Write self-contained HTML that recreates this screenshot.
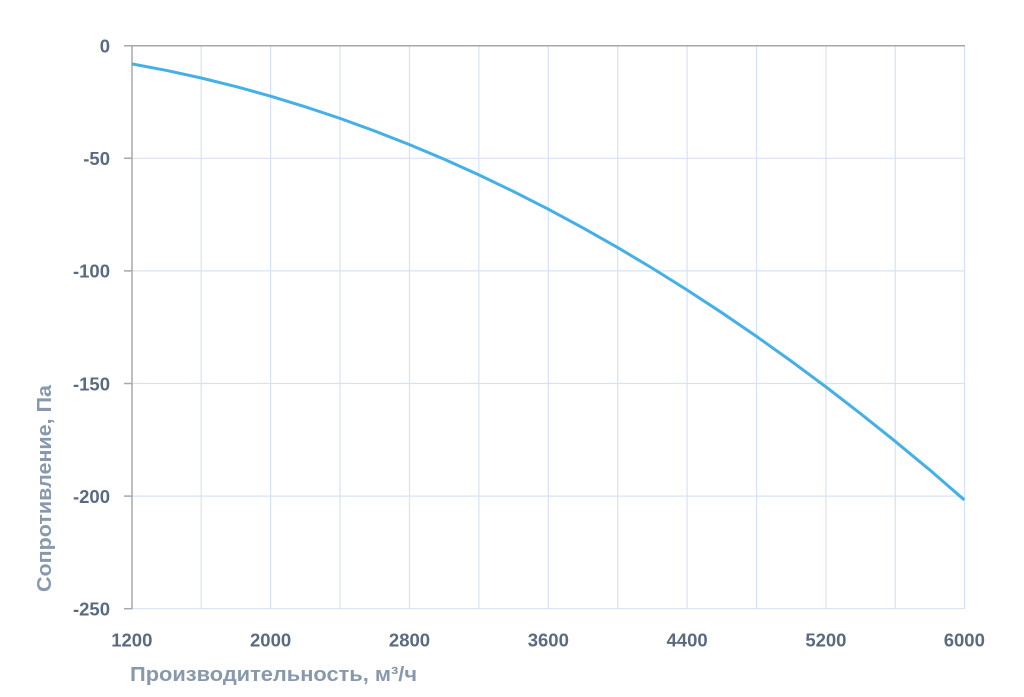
<!DOCTYPE html>
<html>
<head>
<meta charset="utf-8">
<style>
  html,body{margin:0;padding:0;background:#ffffff;}
  svg{display:block;}
  .tk{font-family:"Liberation Sans","DejaVu Sans",sans-serif;font-weight:bold;font-size:18.5px;fill:#5a6b7f;}
  .tt{font-family:"Liberation Sans","DejaVu Sans",sans-serif;font-weight:bold;font-size:20px;fill:#8898ad;}
</style>
</head>
<body>
<svg width="1024" height="697" viewBox="0 0 1024 697" xmlns="http://www.w3.org/2000/svg">
  <rect width="1024" height="697" fill="#ffffff"/>
  <g stroke="#d6e3f5" stroke-width="1.2">
    <line x1="201.2" y1="46" x2="201.2" y2="609"/>
    <line x1="270.6" y1="46" x2="270.6" y2="609"/>
    <line x1="340.0" y1="46" x2="340.0" y2="609"/>
    <line x1="409.5" y1="46" x2="409.5" y2="609"/>
    <line x1="478.9" y1="46" x2="478.9" y2="609"/>
    <line x1="548.3" y1="46" x2="548.3" y2="609"/>
    <line x1="617.7" y1="46" x2="617.7" y2="609"/>
    <line x1="687.1" y1="46" x2="687.1" y2="609"/>
    <line x1="756.5" y1="46" x2="756.5" y2="609"/>
    <line x1="825.9" y1="46" x2="825.9" y2="609"/>
    <line x1="895.3" y1="46" x2="895.3" y2="609"/>
    <line x1="964.5" y1="46" x2="964.5" y2="609"/>
  </g>
  <g stroke="#d6e3f5" stroke-width="1.2">
    <line x1="132" y1="158.3" x2="964.5" y2="158.3"/>
    <line x1="132" y1="270.9" x2="964.5" y2="270.9"/>
    <line x1="132" y1="383.5" x2="964.5" y2="383.5"/>
    <line x1="132" y1="496.1" x2="964.5" y2="496.1"/>
    <line x1="132" y1="608.7" x2="964.5" y2="608.7"/>
  </g>
  <g stroke="#a8a8a8" stroke-width="1.5">
    <line x1="124" y1="45.7" x2="965" y2="45.7"/>
    <line x1="132" y1="45.7" x2="132" y2="609"/>
    <line x1="124" y1="158.3" x2="132" y2="158.3"/>
    <line x1="124" y1="270.9" x2="132" y2="270.9"/>
    <line x1="124" y1="383.5" x2="132" y2="383.5"/>
    <line x1="124" y1="496.1" x2="132" y2="496.1"/>
    <line x1="124" y1="608.7" x2="132" y2="608.7"/>
  </g>
  <polyline fill="none" stroke="#45b0e5" stroke-width="3" stroke-linejoin="round" stroke-linecap="butt"
    points="131.8,63.87 166.5,70.43 201.2,78.00 235.9,86.58 270.6,96.17 305.3,106.77 340.0,118.38 374.7,131.00 409.5,144.63 444.2,159.26 478.9,174.90 513.6,191.56 548.3,209.22 583.0,227.89 617.7,247.57 652.4,268.27 687.1,289.97 721.8,312.69 756.5,336.42 791.2,361.14 825.9,386.88 860.6,413.63 895.3,441.40 930.0,470.16 964.3,499.93"/>
  <g class="tk" text-anchor="end">
    <text x="110" y="52.5">0</text>
    <text x="110" y="165.1">-50</text>
    <text x="110" y="277.7">-100</text>
    <text x="110" y="390.3">-150</text>
    <text x="110" y="502.9">-200</text>
    <text x="110" y="615.5">-250</text>
  </g>
  <g class="tk" text-anchor="middle">
    <text x="131.8" y="646.5">1200</text>
    <text x="270.6" y="646.5">2000</text>
    <text x="409.5" y="646.5">2800</text>
    <text x="548.3" y="646.5">3600</text>
    <text x="687.1" y="646.5">4400</text>
    <text x="825.9" y="646.5">5200</text>
    <text x="964.3" y="646.5">6000</text>
  </g>
  <text class="tt" x="130" y="681" textLength="287" lengthAdjust="spacingAndGlyphs">Производительность, м³/ч</text>
  <text class="tt" transform="translate(51,592) rotate(-90)" x="0" y="0" textLength="207" lengthAdjust="spacingAndGlyphs">Сопротивление, Па</text>
</svg>
</body>
</html>
